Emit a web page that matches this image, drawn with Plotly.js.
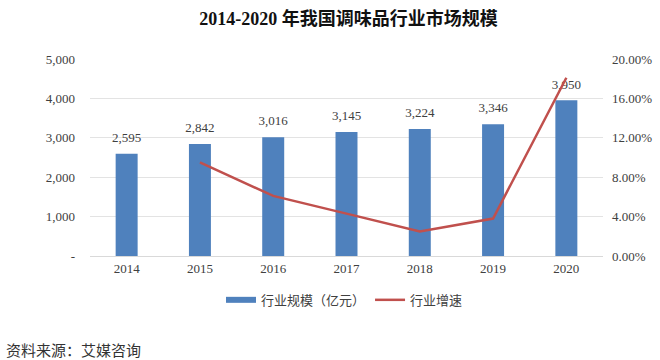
<!DOCTYPE html>
<html>
<head>
<meta charset="utf-8">
<script src="https://cdn.plot.ly/plotly-3.0.1.min.js"></script>
<style>body{margin:0;padding:0;background:#fff}#chart{width:660px;height:360px}</style>
</head>
<body>
<div id="chart"></div>
<script>
const years = ['2014','2015','2016','2017','2018','2019','2020'];
const marketSize = [2595, 2842, 3016, 3145, 3224, 3346, 3950];
const growthYears = ['2015','2016','2017','2018','2019','2020'];
const growthRate = [0.095, 0.061, 0.043, 0.025, 0.038, 0.181];
const leftTickVals = [0, 1000, 2000, 3000, 4000, 5000];
const leftTickText = ['-', '1,000', '2,000', '3,000', '4,000', '5,000'];
const rightTickVals = [0, 0.04, 0.08, 0.12, 0.16, 0.20];
const rightTickText = ['0.00%', '4.00%', '8.00%', '12.00%', '16.00%', '20.00%'];

const serif = '"Liberation Serif", "Times New Roman", "Noto Sans CJK SC", serif';
const cjk = '"Noto Sans CJK SC", "Liberation Sans", sans-serif';
const barColor = '#4F81BD';
const lineColor = '#C0504D';

const traces = [
  {
    type: 'bar', name: '行业规模（亿元）', x: years, y: marketSize,
    marker: {color: barColor}, width: 0.3, showlegend: false,
    hoverinfo: 'skip'
  },
  {
    type: 'scatter', mode: 'markers+text', x: years, y: marketSize,
    marker: {size: 12, opacity: 0}, showlegend: false,
    text: marketSize.map(v => v.toLocaleString('en-US')),
    textposition: 'top center', cliponaxis: false,
    textfont: {family: serif, size: 13, color: '#404040'},
    hoverinfo: 'skip'
  },
  {
    type: 'scatter', mode: 'lines', name: '行业增速', x: growthYears, y: growthRate,
    yaxis: 'y2', line: {color: lineColor, width: 2.5}, showlegend: false, hoverinfo: 'skip'
  },
  {
    type: 'scatter', mode: 'lines', name: '行业规模（亿元）', x: [null], y: [null],
    line: {color: barColor, width: 6}, showlegend: true, hoverinfo: 'skip'
  },
  {
    type: 'scatter', mode: 'lines', name: '行业增速', x: [null], y: [null],
    yaxis: 'y2', line: {color: lineColor, width: 2.5}, showlegend: true, hoverinfo: 'skip'
  }
];

const layout = {
  width: 660, height: 360,
  margin: {l: 90, r: 57, t: 59, b: 104},
  paper_bgcolor: '#fff', plot_bgcolor: '#fff',
  title: {
    text: '<b>2014-2020 年我国调味品行业市场规模</b>',
    x: 0.528, xref: 'container', xanchor: 'center',
    y: 0.965, yref: 'container', yanchor: 'top',
    font: {family: serif, size: 18, color: '#111'}
  },
  xaxis: {
    type: 'category', showline: true, linecolor: '#d9d9d9', linewidth: 1,
    ticks: '', tickfont: {family: serif, size: 13, color: '#404040'},
    showgrid: false, zeroline: false
  },
  yaxis: {
    range: [0, 5000], tickvals: leftTickVals, ticktext: leftTickText,
    tickfont: {family: serif, size: 13, color: '#404040'},
    showgrid: true, gridcolor: '#e3e3e3', zeroline: false, ticks: '',
    ticklabelstandoff: 14
  },
  yaxis2: {
    overlaying: 'y', side: 'right', range: [0, 0.20],
    tickvals: rightTickVals, ticktext: rightTickText,
    tickfont: {family: serif, size: 13, color: '#404040'},
    showgrid: false, zeroline: false, ticks: '',
    ticklabelstandoff: 8
  },
  showlegend: true,
  legend: {
    orientation: 'h', x: 0.522, xanchor: 'center', xref: 'container',
    y: 0.167, yref: 'container', yanchor: 'middle',
    font: {family: cjk, size: 13, color: '#404040'},
    itemwidth: 30, traceorder: 'normal'
  },
  annotations: [
    {
      text: '资料来源：艾媒咨询', xref: 'paper', yref: 'paper',
      x: 0, xshift: -86, y: -0.477, xanchor: 'left', yanchor: 'middle', showarrow: false,
      font: {family: '"Noto Sans CJK SC", serif', size: 15, color: '#333'}
    }
  ]
};

Plotly.newPlot('chart', traces, layout, {displayModeBar: false, staticPlot: true});
</script>
</body>
</html>
